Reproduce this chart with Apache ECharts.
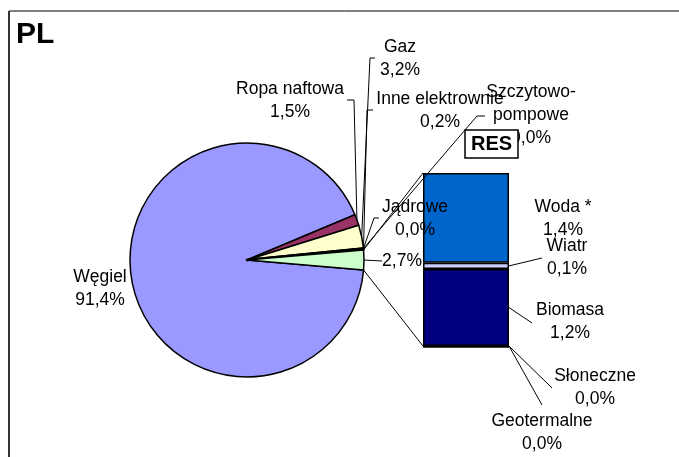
<!DOCTYPE html>
<html>
<head>
<meta charset="utf-8">
<script src="https://cdn.jsdelivr.net/npm/echarts@6/dist/echarts.min.js"></script>
<style>
  html, body { margin: 0; padding: 0; background: #fff; }
  #chart { width: 679px; height: 457px; }
</style>
</head>
<body>
<div id="chart"></div>
<script>
// dane - koło (kolejność zgodnie z ruchem wskazówek zegara)
const pieNames = ['Węgiel', 'Ropa naftowa', 'Gaz', 'Jądrowe', 'Szczytowo-pompowe', 'Inne elektrownie', 'RES'];
const pieValues = [91.4, 1.5, 3.2, 0.0, 0.0, 0.2, 2.7];
const pieColors = ['#9999FF', '#993366', '#FFFFCC', '#000000', '#000000', '#FF8080', '#CCFFCC'];

// dane - słupek RES (od dołu do góry)
const resNames = ['Geotermalne', 'Słoneczne', 'Biomasa', 'Wiatr', 'Woda *'];
const resValues = [0.0, 0.0, 1.2, 0.1, 1.4];
const resColors = ['#000000', '#000000', '#000080', '#CCCCFF', '#0066CC'];

// układ
const cx = 247, cy = 260, R = 117;
const barLeft = 423, barTop = 173, barW = 86, barH = 173;
const font = '"Liberation Sans", Arial, sans-serif';
const fs = 17.5, lh = 23;

// pozycje etykiet koła i załamania linii
const pieLabelPos = [[100, 289], [290, 101], [400, 59], [415, 219], [531, 115], [440, 111], [402, 261]];
const pieBends = [null, [[354, 100], [347, 100]], [[370, 58], [375, 58]], [[374, 218], [379, 218]],
                  [[477, 116], [485, 116]], [[367, 110], [373, 110]], [[382, 261], [382, 261]]];
// pozycje etykiet słupka i końce linii
const barLabelPos = [[542, 433], [595, 388], [570, 322], [567, 258], [563, 219]];
const barLineEnd = [[542, 405], [552, 388], [532, 323], [542, 258], null];

function fmt(v) {
  return v.toFixed(1).replace('.', ',') + '%';
}

const total = pieValues.reduce((a, b) => a + b, 0);
const resIdx = pieNames.indexOf('RES');
const half = pieValues[resIdx] / total * Math.PI;
const startAngle = -half * 180 / Math.PI;
const edgeTop = [cx + R * Math.cos(half), cy - R * Math.sin(half)];
const edgeBot = [cx + R * Math.cos(half), cy + R * Math.sin(half)];
const resTotal = resValues.reduce((a, b) => a + b, 0);

var myChart = echarts.init(document.getElementById('chart'));

const barSeries = resNames.map((name, i) => ({
  name: name,
  type: 'bar',
  stack: 'res',
  barWidth: '100%',
  data: [resValues[i]],
  itemStyle: { color: resColors[i], borderColor: '#000', borderWidth: resValues[i] === 0 ? 3 : 1.5 },
  label: {
    show: true,
    formatter: (p) => p.seriesName + '\n' + fmt(p.value),
    color: '#000',
    fontFamily: font,
    fontSize: fs,
    lineHeight: lh
  },
  labelLine: { show: false },
  labelLayout: function () {
    const pos = barLabelPos[i];
    return { x: pos[0], y: pos[1], align: 'center', verticalAlign: 'middle' };
  },
  emphasis: { disabled: true },
  z: 1
}));

const frame = [
  { type: 'line', shape: { x1: 9, y1: 11, x2: 690, y2: 11 }, style: { stroke: '#000', lineWidth: 1 } },
  { type: 'line', shape: { x1: 9, y1: 11, x2: 9, y2: 470 }, style: { stroke: '#333', lineWidth: 2 } },
  { type: 'line', shape: { x1: edgeTop[0], y1: edgeTop[1], x2: barLeft, y2: barTop }, style: { stroke: '#000', lineWidth: 1 }, z: 10 },
  { type: 'line', shape: { x1: edgeBot[0], y1: edgeBot[1], x2: barLeft, y2: barTop + barH }, style: { stroke: '#000', lineWidth: 1 }, z: 10 }
];

var option = {
  animation: false,
  backgroundColor: '#fff',
  title: [
    {
      text: 'PL', left: 16, top: 20, padding: 0,
      textStyle: { fontFamily: font, fontSize: 30, fontWeight: 'bold', color: '#000' }
    },
    {
      text: 'RES', left: 465, top: 130, padding: [4, 6],
      backgroundColor: '#fff', borderColor: '#000', borderWidth: 1.5,
      textStyle: { fontFamily: font, fontSize: 20, fontWeight: 'bold', color: '#000' }
    }
  ],
  grid: { left: barLeft, top: barTop, width: barW, height: barH, containLabel: false },
  xAxis: { type: 'category', data: ['RES'], show: false },
  yAxis: { type: 'value', min: 0, max: resTotal, show: false },
  graphic: frame,
  series: [
    {
      name: 'PL',
      type: 'pie',
      center: [cx, cy],
      radius: R,
      startAngle: startAngle,
      clockwise: true,
      avoidLabelOverlap: false,
      z: 3,
      data: pieNames.map((n, i) => ({
        name: n, value: pieValues[i],
        itemStyle: { color: pieColors[i], borderWidth: pieValues[i] === 0 ? 2.5 : 1.5 }
      })),
      itemStyle: { borderColor: '#000', borderWidth: 1.5 },
      label: {
        show: true,
        formatter: (p) => p.name === 'RES' ? fmt(p.value)
          : p.name.replace('-', '-\n') + '\n' + fmt(p.value),
        color: '#000',
        fontFamily: font,
        fontSize: fs,
        lineHeight: lh
      },
      labelLine: { show: true, length: 0, length2: 0, lineStyle: { color: '#000', width: 1 } },
      labelLayout: function (p) {
        const i = p.dataIndex;
        const pos = pieLabelPos[i];
        const a = p.labelLinePoints ? p.labelLinePoints[0] : pos;
        const b = pieBends[i];
        return {
          x: pos[0], y: pos[1], align: 'center', verticalAlign: 'middle',
          labelLinePoints: b ? [a, b[0], b[1]] : [a, a, a]
        };
      },
      emphasis: { disabled: true }
    }
  ].concat(barSeries)
};

option && myChart.setOption(option);

// linie odniesienia etykiet słupka - od krawędzi segmentu
let cum = 0;
const leaders = [];
resValues.forEach((v, i) => {
  const mid = myChart.convertToPixel({ gridIndex: 0 }, [0, cum + v / 2]);
  cum += v;
  const end = barLineEnd[i];
  if (end) {
    leaders.push({
      type: 'line',
      shape: { x1: barLeft + barW, y1: mid[1], x2: end[0], y2: end[1] },
      style: { stroke: '#000', lineWidth: 1 }
    });
  }
});
myChart.setOption({ graphic: frame.concat(leaders) });
</script>
</body>
</html>
